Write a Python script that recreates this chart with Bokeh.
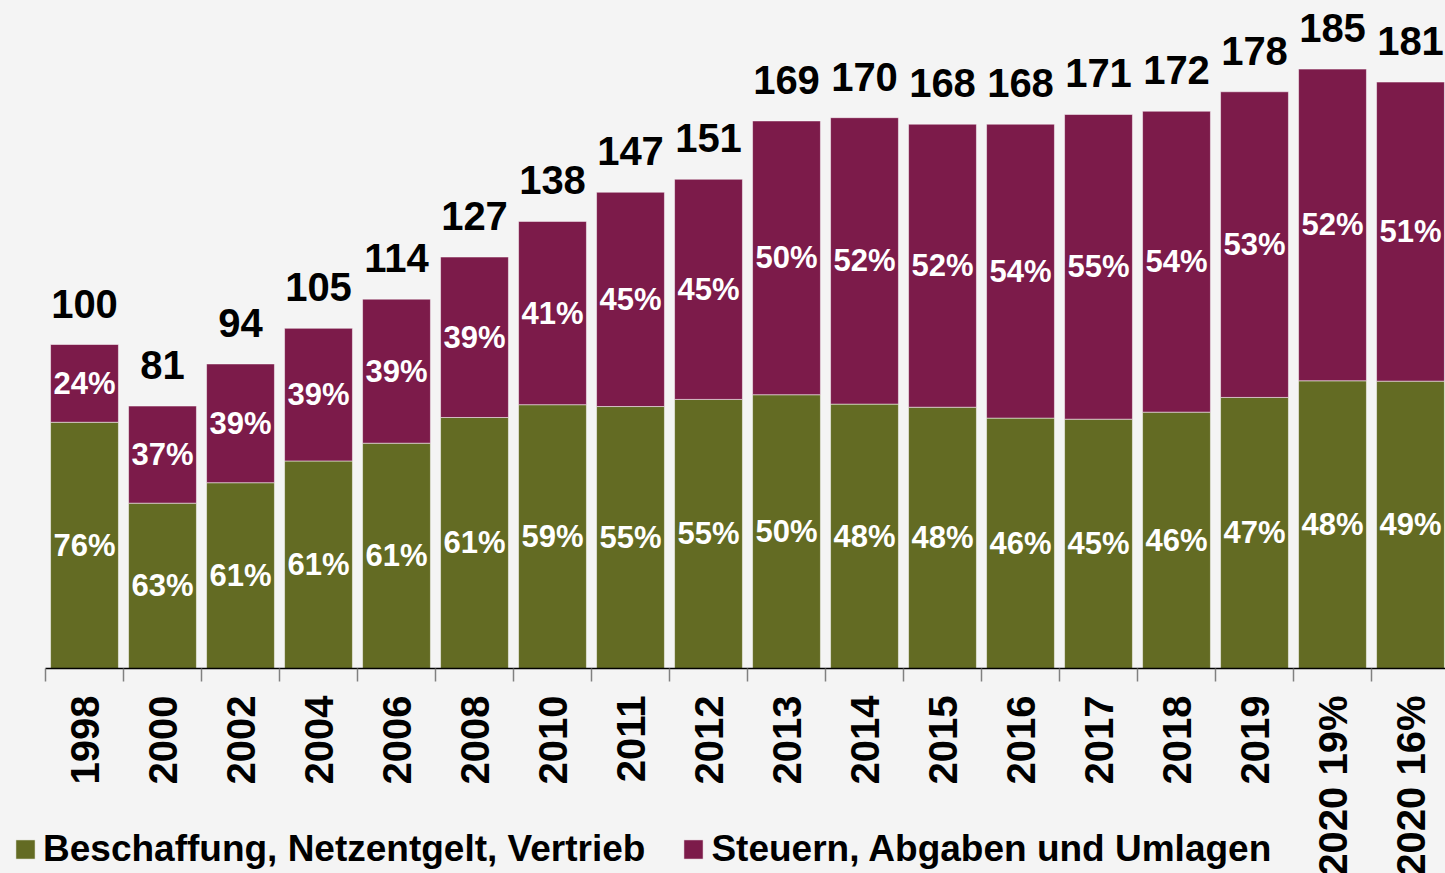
import math
from bokeh.plotting import figure
from bokeh.models import Range1d, FixedTicker, Legend, LegendItem, ColumnDataSource
from bokeh.core.properties import value
from bokeh.embed import file_html
from bokeh.resources import INLINE

categories = ["1998", "2000", "2002", "2004", "2006", "2008", "2010", "2011", "2012",
              "2013", "2014", "2015", "2016", "2017", "2018", "2019", "2020 19%", "2020 16%"]
totals = [100, 81, 94, 105, 114, 127, 138, 147, 151, 169, 170, 168, 168, 171, 172, 178, 185, 181]
share_base = [76, 63, 61, 61, 61, 61, 59, 55, 55, 50, 48, 48, 46, 45, 46, 47, 48, 49]
share_tax = [24, 37, 39, 39, 39, 39, 41, 45, 45, 50, 52, 52, 54, 55, 54, 53, 52, 51]
series_names = ["Beschaffung, Netzentgelt, Vertrieb", "Steuern, Abgaben und Umlagen"]

GREEN = "#636B23"
PURPLE = "#7C1B4A"
BG = "#F4F4F4"
FONT = "Liberation Sans"

xs = list(range(len(categories)))
base = [t * s / 100 for t, s in zip(totals, share_base)]
src = ColumnDataSource(dict(
    x=xs,
    total=totals,
    base=base,
    base_mid=[b / 2 for b in base],
    tax_mid=[(b + t) / 2 for b, t in zip(base, totals)],
    base_lbl=[f"{s}%" for s in share_base],
    tax_lbl=[f"{s}%" for s in share_tax],
    total_lbl=[str(t) for t in totals],
))

W, H = 1445, 873
axis_x_px, axis_y_px = 45, 668       # screen position of the category axis origin
px_per_cat = 78.0
px_per_unit = 3.24
x0 = -0.5 - axis_x_px / px_per_cat
y0 = -(H - axis_y_px) / px_per_unit

p = figure(width=W, height=H, output_backend="svg", toolbar_location=None,
           x_range=Range1d(x0, x0 + W / px_per_cat),
           y_range=Range1d(y0, y0 + H / px_per_unit),
           min_border=0)
p.background_fill_color = BG
p.border_fill_color = BG
p.outline_line_color = None
p.grid.visible = False
p.yaxis.visible = False

r1 = p.vbar(x="x", bottom=0, top="base", width=0.87, source=src,
            fill_color=GREEN, line_color="white", line_alpha=0.5, line_width=1)
r2 = p.vbar(x="x", bottom="base", top="total", width=0.87, source=src,
            fill_color=PURPLE, line_color="white", line_alpha=0.5, line_width=1)

p.text(x="x", y="base_mid", text="base_lbl", source=src, text_color="white",
       text_font=value(FONT), text_font_style="bold", text_font_size="31px",
       text_align="center", text_baseline="middle")
p.text(x="x", y="tax_mid", text="tax_lbl", source=src, text_color="white",
       text_font=value(FONT), text_font_style="bold", text_font_size="31px",
       text_align="center", text_baseline="middle")
p.text(x="x", y="total", text="total_lbl", source=src, text_color="black",
       text_font=value(FONT), text_font_style="bold", text_font_size="40px",
       text_align="center", text_baseline="alphabetic", y_offset=-41)

ax = p.xaxis[0]
ax.fixed_location = 0
ax.bounds = (-0.5, len(xs) - 0.5)
ax.ticker = FixedTicker(ticks=xs, minor_ticks=[i - 0.5 for i in range(len(xs) + 1)])
ax.major_label_overrides = {i: c for i, c in enumerate(categories)}
ax.major_tick_line_color = None
ax.major_tick_out = 0
ax.major_tick_in = 0
ax.minor_tick_out = 13
ax.minor_tick_in = 0
ax.minor_tick_line_color = "#808080"
ax.minor_tick_line_width = 1.5
ax.axis_line_color = "black"
ax.axis_line_width = 1.5
ax.major_label_orientation = math.pi / 2
ax.major_label_standoff = 14
ax.major_label_text_font = FONT
ax.major_label_text_font_style = "bold"
ax.major_label_text_font_size = "40px"
ax.major_label_text_color = "black"

legend = Legend(items=[LegendItem(label=value(series_names[0]), renderers=[r1]),
                       LegendItem(label=value(series_names[1]), renderers=[r2])],
                location=(13, 3), orientation="horizontal",
                glyph_width=24, glyph_height=24, label_standoff=6, spacing=36,
                padding=0, margin=0, background_fill_alpha=0, border_line_alpha=0,
                label_text_font=FONT, label_text_font_style="bold",
                label_text_font_size="37px", label_text_color="black")
p.add_layout(legend)

html = file_html(p, INLINE)
html = html.replace("<head>", "<head><style>body{background:#F4F4F4}</style>", 1)
open("out.html", "w").write(html)
